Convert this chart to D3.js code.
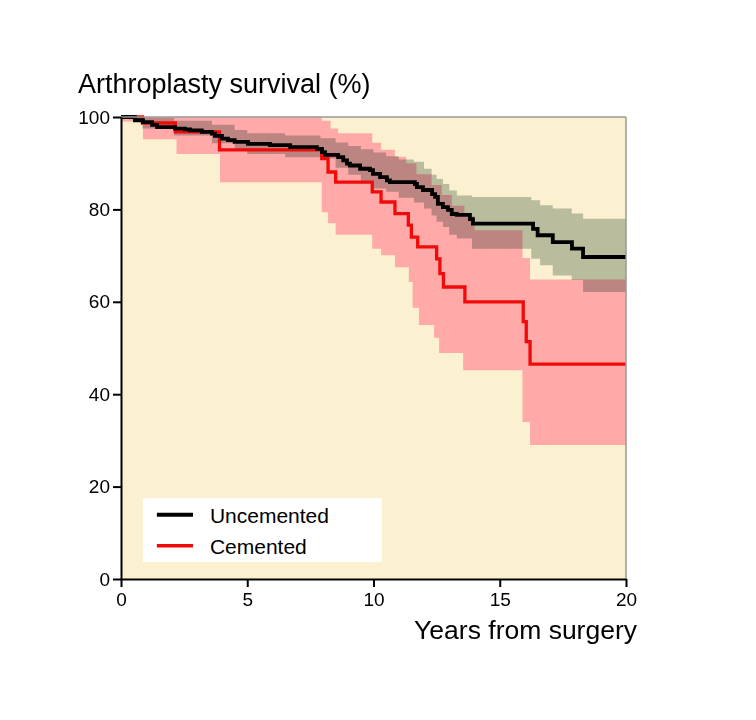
<!DOCTYPE html>
<html lang="en">
<head>
<meta charset="UTF-8">
<title>Arthroplasty survival</title>
<script src="https://d3js.org/d3.v7.min.js"></script>
<style>
  body { margin: 0; background: #fff; }
  svg { font-family: "Liberation Sans", Arial, Helvetica, sans-serif; }
</style>
</head>
<body>
<script>
    // Kaplan-Meier step curves, years from surgery vs survival %
    const uncemTime = [0, 0.55, 0.87, 1.23, 1.43, 2.14, 2.53, 2.73, 3.2, 3.6, 3.72, 4.0, 4.24, 4.5, 5.03, 5.9, 6.7, 7.76, 7.96, 8.08, 8.6, 8.8, 8.95, 9.07, 9.47, 9.86, 9.98, 10.26, 10.53, 10.65, 11.64, 11.72, 11.96, 12.32, 12.44, 12.55, 12.75, 12.95, 13.1, 13.3, 13.82, 13.94, 16.32, 16.5, 17.1, 17.86, 18.3, 20]
    const uncemSurv = [100, 99.3, 98.9, 98.3, 97.8, 97.5, 97.3, 97.1, 96.8, 96.4, 95.9, 95.3, 95.0, 94.6, 94.2, 93.9, 93.5, 93.1, 92.4, 91.8, 91.3, 90.6, 89.9, 89.5, 88.8, 88.5, 87.7, 87.0, 86.3, 85.9, 85.5, 84.8, 84.2, 83.3, 82.7, 81.2, 80.5, 79.9, 79.0, 78.8, 77.9, 76.9, 75.8, 74.4, 72.9, 71.5, 69.7, 69.7]

    const uncemCiTime = [0, 0.85, 2.1, 3.6, 4.5, 5.0, 6.5, 7.9, 8.5, 9.0, 9.5, 10.0, 10.5, 11.0, 11.6, 12.0, 12.3, 12.5, 12.75, 13.0, 13.3, 13.9, 16.25, 16.6, 17.1, 17.85, 18.3, 20]
    const uncemCiHigh = [100, 99.8, 99.2, 98.3, 97.2, 96.5, 96.0, 95.4, 94.5, 93.7, 93.0, 92.3, 91.5, 90.8, 90.3, 88.8, 87.5, 86.6, 85.5, 84.1, 83.0, 82.7, 82.0, 80.9, 80.2, 79.1, 78.0, 78.0]
    const uncemCiLow = [100, 97.5, 96.0, 94.3, 92.8, 92.0, 91.3, 91.0, 89.0, 87.5, 86.0, 84.5, 83.8, 82.5, 81.5, 80.2, 78.7, 77.3, 76.2, 74.5, 73.7, 71.5, 69.3, 67.9, 65.7, 64.7, 62.1, 62.1]

    const cemTime = [0, 0.85, 2.15, 3.9, 7.95, 8.2, 8.5, 9.95, 10.3, 10.85, 11.38, 11.5, 11.75, 12.5, 12.63, 12.77, 13.62, 15.93, 16.05, 16.2, 20]
    const cemSurv = [100, 98.7, 96.8, 92.9, 91.0, 88.1, 85.9, 83.8, 81.6, 79.1, 76.6, 74.0, 71.9, 69.3, 66.1, 63.2, 60.0, 55.7, 51.4, 46.5, 46.5]

    const cemCiTime = [0, 0.87, 2.2, 3.92, 7.95, 8.2, 8.3, 8.5, 8.6, 9.95, 10.3, 10.85, 11.3, 11.4, 11.55, 11.7, 11.8, 12.3, 12.4, 12.6, 12.7, 13.1, 13.55, 13.6, 14.0, 15.9, 16.2, 20]
    const cemCiLow = [99, 95.2, 92.0, 85.9, 79.4, 77.0, 77.0, 74.5, 74.5, 71.5, 70.1, 67.5, 67.5, 64.3, 58.7, 58.7, 55.0, 55.0, 52.2, 48.9, 48.9, 48.9, 45.2, 45.2, 45.2, 34.0, 29.0, 29.0]
    const cemCiHigh = [100, 100, 100, 100, 99.2, 99.2, 97.5, 97.5, 96.5, 94.4, 92.9, 91.4, 90.0, 90.0, 90.0, 87.6, 87.6, 85.3, 85.3, 85.3, 83.1, 80.8, 80.8, 78.5, 75.5, 69.5, 64.8, 64.8]

    const xTicks = [0, 5, 10, 15, 20]
    const yTicks = [0, 20, 40, 60, 80, 100]
    const seriesNames = ["Uncemented", "Cemented"]

    const width = 756
    const height = 720
    const margin = {left: 121, top: 117, right: 130, bottom: 141}
    const pw = width - margin.left - margin.right
    const ph = height - margin.top - margin.bottom

    let svg = d3.select("body").append("svg")
        .attr("width", width)
        .attr("height", height)

    const x = d3.scaleLinear().domain([0, 20]).range([0, pw])
    const y = d3.scaleLinear().domain([0, 100]).range([ph, 0])

    let g = svg.append("g").attr("transform", `translate(${margin.left},${margin.top})`)

    g.append("rect").attr("width", pw).attr("height", ph).attr("fill", "#fbf0cf")

    const band = (times, lo, hi) => d3.area()
        .curve(d3.curveStepAfter)
        .x((d, i) => x(times[i]))
        .y0((d, i) => y(lo[i]))
        .y1((d, i) => y(hi[i]))(times)

    const step = (times, vals) => d3.line()
        .curve(d3.curveStepAfter)
        .x((d, i) => x(times[i]))
        .y((d, i) => y(vals[i]))(times)

    g.append("path").attr("d", band(cemCiTime, cemCiLow, cemCiHigh))
        .attr("fill", "#ffa9a9")
    g.append("path").attr("d", band(uncemCiTime, uncemCiLow, uncemCiHigh))
        .attr("fill", "#bcc8c2")
        .style("mix-blend-mode", "multiply")

    g.append("path").attr("d", step(cemTime, cemSurv))
        .attr("fill", "none").attr("stroke", "#f00a0a").attr("stroke-width", 3.3)
    g.append("path").attr("d", step(uncemTime, uncemSurv))
        .attr("fill", "none").attr("stroke", "#000").attr("stroke-width", 3.8)

    // grey frame top and right
    g.append("line").attr("x1", 0).attr("x2", pw).attr("y1", 0).attr("y2", 0)
        .attr("stroke", "#999").attr("stroke-width", 1.5)
    g.append("line").attr("x1", pw).attr("x2", pw).attr("y1", 0).attr("y2", ph)
        .attr("stroke", "#999").attr("stroke-width", 1.5)

    let yAxis = g.append("g")
        .call(d3.axisLeft(y).tickValues(yTicks).tickSize(8).tickSizeOuter(0).tickPadding(3))
    let xAxis = g.append("g").attr("transform", `translate(0,${ph})`)
        .call(d3.axisBottom(x).tickValues(xTicks).tickSize(8).tickSizeOuter(0).tickPadding(6))
    ;[yAxis, xAxis].forEach(a => {
        a.selectAll("path,line").attr("stroke", "#000").attr("stroke-width", 2)
        a.selectAll("text").attr("font-size", 19).attr("fill", "#000")
            .style("font-family", "'Liberation Sans', Arial, sans-serif")
    })

    svg.append("text").attr("x", 78).attr("y", 93)
        .attr("font-size", 27).text("Arthroplasty survival (%)")
    svg.append("text").attr("x", 637).attr("y", 639).attr("text-anchor", "end")
        .attr("font-size", 26.5).text("Years from surgery")

    // legend
    let leg = g.append("g")
    leg.append("rect").attr("x", x(0.87)).attr("y", y(17.5))
        .attr("width", 239).attr("height", 64).attr("fill", "#fff")
    const legColors = ["#000", "#f00a0a"]
    seriesNames.forEach((name, i) => {
        const ly = y(13.9) + i * 31
        leg.append("line").attr("x1", x(1.42)).attr("x2", x(2.85))
            .attr("y1", ly).attr("y2", ly)
            .attr("stroke", legColors[i]).attr("stroke-width", i === 0 ? 4 : 3.5)
        leg.append("text").attr("x", x(3.52)).attr("y", ly + 8)
            .attr("font-size", 21).text(name)
    })
</script>
</body>
</html>
